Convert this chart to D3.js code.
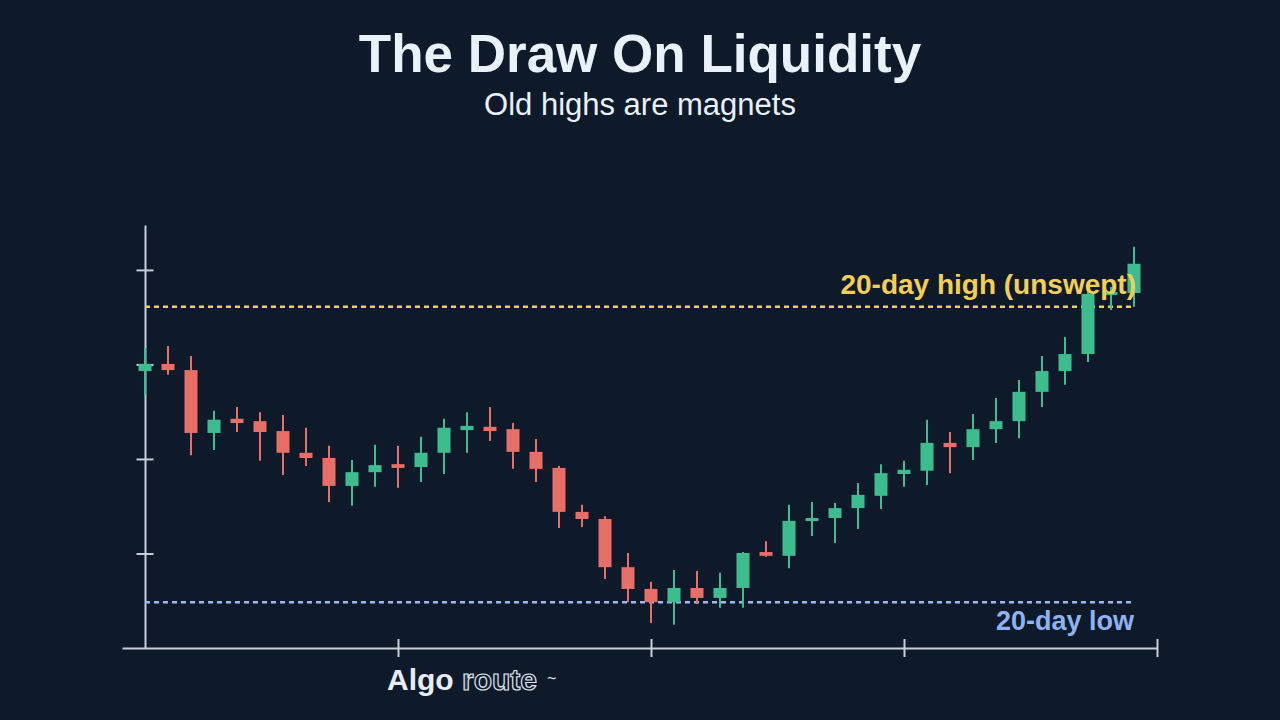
<!DOCTYPE html>
<html>
<head>
<meta charset="utf-8">
<script src="https://cdn.jsdelivr.net/npm/d3@7"></script>
<style>
    html, body { margin: 0; padding: 0; background: #0e1a2a; }
    svg { display: block; font-family: "Liberation Sans", Helvetica, Arial, sans-serif; }
</style>
</head>
<body>
<svg id="chart" width="1280" height="720"></svg>
<script>
// daily candles
const openVals = [101.86, 102.01, 101.88, 100.55, 100.85, 100.80, 100.59, 100.13, 100.02, 99.43, 99.72, 99.89, 99.83, 100.13, 100.61, 100.68, 100.63, 100.15, 99.81, 98.88, 98.73, 97.71, 97.25, 96.97, 97.27, 97.06, 97.27, 98.03, 97.95, 98.69, 98.75, 98.96, 99.22, 99.68, 99.75, 100.34, 100.25, 100.63, 100.80, 101.42, 101.86, 102.22, 103.47, 103.51];
const highVals = [102.35, 102.39, 102.18, 101.02, 101.10, 100.99, 100.93, 100.66, 100.28, 99.98, 100.30, 100.28, 100.47, 100.85, 100.99, 101.10, 100.76, 100.42, 99.85, 99.03, 98.79, 98.01, 97.40, 97.65, 97.63, 97.59, 98.03, 98.26, 99.03, 99.09, 99.07, 99.49, 99.89, 99.96, 100.83, 100.57, 100.95, 101.29, 101.67, 102.18, 102.58, 103.72, 103.64, 104.49];
const lowVals = [101.35, 101.78, 100.08, 100.19, 100.57, 99.96, 99.66, 99.85, 99.09, 99.01, 99.41, 99.39, 99.51, 99.68, 100.13, 100.38, 99.79, 99.51, 98.54, 98.56, 97.46, 96.97, 96.53, 96.49, 96.93, 96.85, 96.85, 97.93, 97.69, 98.37, 98.22, 98.52, 98.94, 99.41, 99.45, 99.70, 99.98, 100.34, 100.44, 101.10, 101.57, 102.05, 103.15, 103.22];
const closeVals = [102.01, 101.88, 100.55, 100.83, 100.76, 100.57, 100.13, 100.02, 99.43, 99.72, 99.87, 99.81, 100.13, 100.66, 100.70, 100.59, 100.15, 99.79, 98.88, 98.73, 97.71, 97.25, 96.97, 97.27, 97.06, 97.27, 98.01, 97.95, 98.69, 98.75, 98.96, 99.24, 99.70, 99.77, 100.34, 100.25, 100.63, 100.80, 101.42, 101.86, 102.22, 103.49, 103.53, 104.13];

// liquidity levels
const highLevel = 103.22;
const lowLevel = 96.97;
const highLabel = "20-day high (unswept)";
const lowLabel = "20-day low";

// axis ticks (no labels on this chart)
const yTicks = [98, 100, 102, 104];
const xTicks = [11, 22, 33, 44];

const titleText = "The Draw On Liquidity";
const subtitleText = "Old highs are magnets";

const candles = openVals.map((o, i) => ({
    i: i,
    open: o,
    high: highVals[i],
    low: lowVals[i],
    close: closeVals[i]
}));

const svg = d3.select("#chart");
const green = "#3dbd8d",
    red = "#e86e68",
    axisColor = "#c6ced9";

// scales
const x = d3.scaleLinear().domain([-1, 44]).range([122, 1157]);
const y = d3.scaleLinear().domain([96, 104.95]).range([648, 225]);

// title
svg.append("text")
    .attr("x", 640).attr("y", 72)
    .attr("text-anchor", "middle")
    .attr("font-size", 53).attr("font-weight", "bold")
    .attr("fill", "#e9f1fb")
    .text(titleText);

svg.append("text")
    .attr("x", 640).attr("y", 115)
    .attr("text-anchor", "middle")
    .attr("font-size", 31)
    .attr("fill", "#e9f1fb")
    .text(subtitleText);

// axes, ticks cross the line on both sides
const yAxis = svg.append("g")
    .attr("transform", `translate(${x(0)},0)`)
    .call(d3.axisLeft(y).tickValues(yTicks).tickFormat("").tickSizeOuter(0));
yAxis.selectAll(".tick line").attr("x1", -8.5).attr("x2", 8.5);

const xAxis = svg.append("g")
    .attr("transform", `translate(0,${y(96)})`)
    .call(d3.axisBottom(x).tickValues(xTicks).tickFormat("").tickSizeOuter(0));
xAxis.selectAll(".tick line").attr("y1", -9).attr("y2", 9);

svg.selectAll(".domain, .tick line")
    .attr("stroke", axisColor)
    .attr("stroke-width", 2);

// dotted level lines
svg.append("line")
    .attr("x1", x(0)).attr("x2", x(43))
    .attr("y1", y(highLevel)).attr("y2", y(highLevel))
    .attr("stroke", "#f3cf55").attr("stroke-width", 2.5)
    .attr("stroke-dasharray", "5,4");

svg.append("line")
    .attr("x1", x(0)).attr("x2", x(43))
    .attr("y1", y(lowLevel)).attr("y2", y(lowLevel))
    .attr("stroke", "#9ab8f2").attr("stroke-width", 2.5)
    .attr("stroke-dasharray", "5,4");

// candles
const bodyW = 13;
const g = svg.append("g")
    .selectAll("g")
    .data(candles)
    .enter()
    .append("g");

g.append("line")
    .attr("x1", d => x(d.i)).attr("x2", d => x(d.i))
    .attr("y1", d => y(d.high)).attr("y2", d => y(d.low))
    .attr("stroke", d => d.close >= d.open ? green : red)
    .attr("stroke-width", 2);

g.append("rect")
    .attr("x", d => x(d.i) - bodyW / 2)
    .attr("width", bodyW)
    .attr("y", d => y(Math.max(d.open, d.close)))
    .attr("height", d => Math.max(3, Math.abs(y(d.open) - y(d.close))))
    .attr("fill", d => d.close >= d.open ? green : red);

// level labels
svg.append("text")
    .attr("x", 1136).attr("y", 294)
    .attr("text-anchor", "end")
    .attr("font-size", 28).attr("font-weight", "bold")
    .attr("fill", "#f3cf55")
    .text(highLabel);

svg.append("text")
    .attr("x", 1134).attr("y", 630)
    .attr("text-anchor", "end")
    .attr("font-size", 27).attr("font-weight", "bold")
    .attr("fill", "#8fb2f2")
    .text(lowLabel);

// watermark
const grad = svg.append("defs").append("linearGradient")
    .attr("id", "routeFill")
    .attr("x1", "0%").attr("x2", "100%");
grad.append("stop").attr("offset", "0%").attr("stop-color", "#aab3c0");
grad.append("stop").attr("offset", "35%").attr("stop-color", "#6d7785");
grad.append("stop").attr("offset", "60%").attr("stop-color", "#0e1a2a");

const wm = svg.append("text")
    .attr("x", 387).attr("y", 690)
    .attr("font-size", 30).attr("font-weight", "bold");
wm.append("tspan").attr("fill", "#e6edf7").text("Algo ");
wm.append("tspan")
    .attr("fill", "url(#routeFill)")
    .attr("stroke", "#dfe6f0").attr("stroke-width", 1.2)
    .text("route");

svg.append("text")
    .attr("x", 547).attr("y", 684)
    .attr("font-size", 16)
    .attr("fill", "#dfe6f0")
    .text("~");
</script>
</body>
</html>
